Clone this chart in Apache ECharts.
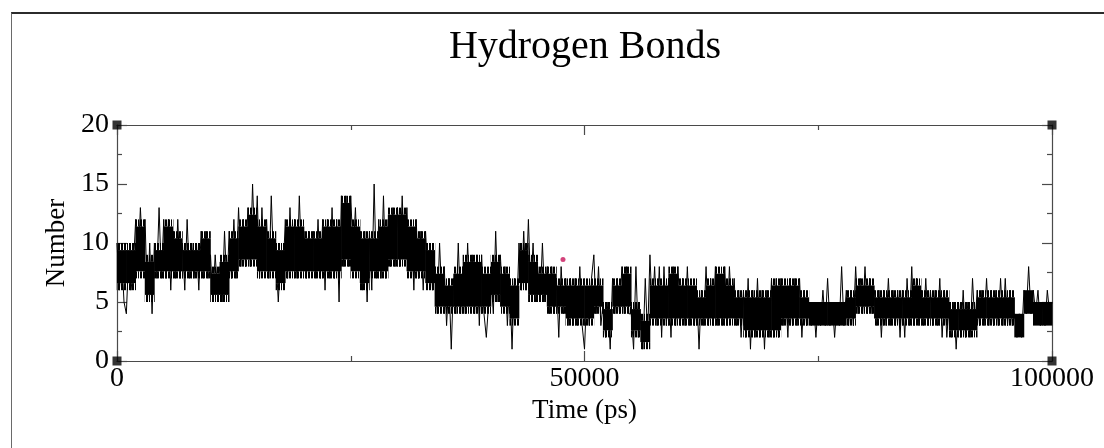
<!DOCTYPE html>
<html>
<head>
<meta charset="utf-8">
<script src="https://cdn.jsdelivr.net/npm/echarts@6/dist/echarts.min.js"></script>
<style>
  html, body { margin: 0; padding: 0; background: #fff; }
  #frame { position: absolute; left: 11px; top: 12px; width: 1100px; height: 440px;
           border-top: 2px solid #2b2b2b; border-left: 1px solid #6a6a6a; }
  #chart { position: absolute; left: 0; top: 0; width: 1104px; height: 448px; }
</style>
</head>
<body>
<div id="frame"></div>
<div id="chart"></div>
<script>
// ---- data ----
const titleText = 'Hydrogen Bonds';
const xName = 'Time (ps)';
const yName = 'Number';
const timeStep = 250;           // ps between line samples
const hbonds = [
  10,6,9,5, 4,9,6,8, 12,8,13,9, 12,5,10,4, 10,7,13,7,
  12,7,12,6, 11,7,12,7, 10,6,12,7, 10,7,10,6, 11,7,11,7,
  9,5,9,6, 8,5,11,6, 11,7,12,7, 13,8,12,8, 13,8,15,9,
  14,7,13,8, 12,7,14,8, 9,5,9,7, 12,7,13,8, 12,7,14,8,
  11,7,11,8, 11,7,12,7, 12,6,12,7, 13,7,12,5, 14,8,14,8,
  14,9,13,8, 11,6,11,5, 11,6,15,7, 12,7,14,7, 12,8,13,8,
  13,8,14,9, 13,8,11,6, 12,7,11,6, 11,7,10,6, 8,4,10,5,
  8,3,7,1, 7,4,10,4, 8,4,10,5, 9,4,9,3, 9,4,2,5,
  7,4,11,5, 9,5,8,3, 7,1,7,4, 10,6,11,6, 12,6,10,5,
  8,5,10,5, 8,4,8,4, 7,2,8,4, 7,3,7,3, 7,3,8,3,
  1,6,3,7, 9,4,8,3, 5,2,5,1, 7,4,7,4, 8,4,8,4,
  4,1,8,2, 4,1,7,2, 9,4,8,3, 8,2,8,3, 7,2,8,3,
  8,3,7,3, 8,3,6,3, 6,1,6,3, 8,3,7,3, 8,3,7,3,
  8,3,8,4, 7,3,6,2, 6,2,7,1, 6,2,7,2, 6,1,6,2,
  7,2,7,2, 7,3,6,2, 7,3,7,3, 7,2,6,3, 5,3,5,2,
  5,3,6,3, 7,3,5,2, 5,3,8,3, 6,3,6,3, 8,4,7,4,
  8,4,7,4, 6,3,6,2, 6,3,7,3, 6,3,6,2, 6,2,7,3,
  8,3,7,3, 6,3,7,3, 6,3,6,3, 7,2,6,2, 5,2,5,1,
  5,2,6,2, 5,2,7,3, 6,3,6,3, 7,3,6,3, 6,3,7,3,
  7,3,6,3, 4,2,4,2, 6,4,8,4, 6,4,6,3, 5,3,6,4,
  5
];
// dense core of the band, one pair per 1000 ps bin
const binWidth = 1000;
const coreLow = [
  6,6,7,5,7,7,7,7,7,7, 5,5,7,8,8,7,7,6,7,7,
  7,7,7,7,8,7,6,7,7,8, 8,7,7,6,4,4,4,4,4,4,
  5,4,3,6,5,5,4,4,3,3, 3,4,2,4,4,2,1,3,3,3,
  3,3,3,3,3,3,3,2,2,2, 2,3,3,3,3,3,3,3,3,4,
  4,3,3,3,3,3,3,3,3,2, 2,2,3,3,3,3,2,4,3,3
];
const coreHigh = [
  10,10,12,9,10,12,11,10,10,11, 8,9,11,12,13,12,11,10,12,12,
  11,11,12,12,14,12,11,11,12,13, 13,12,11,10,8,7,8,9,9,8,
  9,8,7,10,9,8,8,7,7,7, 7,7,5,7,8,5,4,7,7,8,
  7,7,6,7,8,7,6,6,6,6, 7,7,7,6,5,5,5,5,6,7,
  7,6,6,6,6,7,6,6,6,5, 5,5,6,6,6,6,4,6,5,5
];
const cornerMarks = [[0,0],[0,20],[100000,20],[100000,0]];
const strayPoint = [[47700, 8.6]];
const xTicks = { min: 0, max: 100000, interval: 50000 };
const yTicks = { min: 0, max: 20, interval: 5 };

const lineData = hbonds.map((v, i) => [i * timeStep, v]);
const coreData = coreLow.map((lo, i) => [i * binWidth, lo, coreHigh[i]]);

const font = "'Liberation Serif', 'Times New Roman', serif";
const axisColor = '#4a4a4a';

// vertical-stripe texture for the ragged outer edge of the band
const stripeCanvas = document.createElement('canvas');
stripeCanvas.width = 11; stripeCanvas.height = 4;
(function () {
  const g = stripeCanvas.getContext('2d');
  g.fillStyle = '#000';
  [0, 1, 3, 4, 6, 8, 9].forEach(x => g.fillRect(x, 0, 1, 4));
})();
const stripeFill = { image: stripeCanvas, repeat: 'repeat' };

function makeAxis(type, pos, showLabel, ticks, extra) {
  return Object.assign({
    type: 'value', position: pos,
    min: ticks.min, max: ticks.max, interval: ticks.interval,
    axisLine: { show: true, onZero: false, lineStyle: { color: axisColor, width: 1.2 } },
    axisTick: { show: true, inside: true, length: 10, lineStyle: { color: axisColor, width: 1.2 } },
    minorTick: { show: true, splitNumber: 2, length: 5, lineStyle: { color: axisColor, width: 1.2 } },
    splitLine: { show: false },
    axisLabel: { show: showLabel, color: '#000', fontFamily: font, fontSize: 28,
                 margin: type === 'x' ? 4 : 8, showMinLabel: true, showMaxLabel: true,
                 formatter: v => String(v) },
  }, extra || {});
}

const chart = echarts.init(document.getElementById('chart'), null, { renderer: 'canvas' });
chart.setOption({
  animation: false,
  backgroundColor: 'transparent',
  title: {
    text: titleText, left: 580, top: 22, textAlign: 'center',
    textStyle: { fontFamily: font, fontSize: 40, fontWeight: 'normal', color: '#000' }
  },
  grid: { left: 117, right: 52, top: 125, bottom: 87, containLabel: false },
  xAxis: [
    makeAxis('x', 'bottom', true, xTicks, {
      name: xName, nameLocation: 'middle', nameGap: 36,
      nameTextStyle: { fontFamily: font, fontSize: 27, color: '#000' }
    }),
    makeAxis('x', 'top', false, xTicks)
  ],
  yAxis: [
    makeAxis('y', 'left', true, yTicks, {
      name: yName, nameLocation: 'middle', nameGap: 42,
      nameTextStyle: { fontFamily: font, fontSize: 27, color: '#000' }
    }),
    makeAxis('y', 'right', false, yTicks)
  ],
  series: [
    {
      type: 'custom', data: coreData, z: 2,
      renderItem: function (params, api) {
        const t = api.value(0), lo = api.value(1), hi = api.value(2);
        const a = api.coord([t, hi]);
        const b = api.coord([t + binWidth, lo]);
        const x = a[0] - 0.3, w = b[0] - a[0] + 0.6;
        const unit = (b[1] - a[1]) / Math.max(hi - lo, 1);
        const children = [];
        if (hi - lo >= 3) {
          children.push({ type: 'rect', shape: { x, y: a[1] + unit * 0.6, width: w, height: b[1] - a[1] - unit * 1.2 }, style: { fill: '#000' } });
          children.push({ type: 'rect', shape: { x, y: a[1], width: w, height: unit * 0.6 }, style: { fill: stripeFill } });
          children.push({ type: 'rect', shape: { x, y: b[1] - unit * 0.6, width: w, height: unit * 0.6 }, style: { fill: stripeFill } });
        } else {
          children.push({ type: 'rect', shape: { x, y: a[1], width: w, height: b[1] - a[1] }, style: { fill: '#000' } });
        }
        return { type: 'group', children };
      }
    },
    {
      type: 'line', data: lineData, showSymbol: false, symbol: 'none',
      lineStyle: { color: '#000', width: 1 }, z: 3
    },
    {
      type: 'scatter', data: strayPoint, symbol: 'circle', symbolSize: 5,
      itemStyle: { color: '#c8145a' }, z: 4
    },
    {
      type: 'scatter', data: cornerMarks, symbol: 'rect', symbolSize: 9,
      itemStyle: { color: '#000' }, z: 5
    }
  ]
});
</script>
</body>
</html>
